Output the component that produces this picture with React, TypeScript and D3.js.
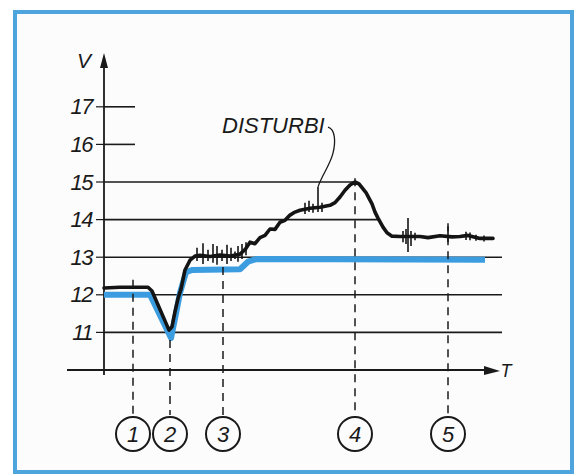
import React from "react";
import * as d3 from "d3";

// ---- data (T in arbitrary time units, V in volts) ----
const yTicks = [11, 12, 13, 14, 15, 16, 17];
// how far right each horizontal reference line runs (in T units)
const gridEnds = [99.5, 99.5, 99.5, 68.5, 62.75, 7.75, 7.75];

const blueT = [0, 11.5, 16.75, 18, 19, 20.5, 22, 34, 36, 38, 95.25];
const blueV = [12.0, 12.0, 10.85, 11.5, 12.05, 12.6, 12.66, 12.68, 12.88, 12.95, 12.93];

const blackT = [
  0, 4, 11, 12, 16.25, 17, 17.75, 18.5, 19.25, 20.25, 21.5, 22.75, 24, 26.5, 29, 31.5, 34,
  35.25, 36.5, 37.75, 39, 40.25, 41.5, 42.75, 44, 45.25, 46.5, 47.75, 49, 51.5, 54, 56.5,
  57.75, 59, 60.25, 61.5, 62.75, 63.75, 64.5, 65.5, 66, 67, 67.75, 68.5, 69.75, 70.75, 72,
  74, 79, 81, 84, 87, 89, 91, 94, 97.25,
];
const blackV = [
  12.18, 12.2, 12.2, 12.1, 11.06, 11.15, 11.55, 11.9, 12.15, 12.66, 12.92, 13.03, 13.05,
  13.02, 13.06, 13.03, 13.08, 13.2, 13.4, 13.36, 13.52, 13.58, 13.75, 13.74, 13.93, 13.98,
  14.12, 14.2, 14.25, 14.3, 14.33, 14.38, 14.45, 14.6, 14.78, 14.92, 15.0, 14.95, 14.85,
  14.72, 14.62, 14.42, 14.2, 14.04, 13.8, 13.65, 13.56, 13.55, 13.55, 13.52, 13.57, 13.54,
  13.55, 13.58, 13.5, 13.5,
];

// disturbance spikes: position, low, high
const spikeT = [23.25, 24.75, 26, 27.25, 28.25, 29.5, 30.75, 31.75, 32.75, 33.5, 34.5, 35.5,
  50.25, 51.25, 52.25, 53.5, 54.5, 74.75, 75.5, 76, 76.75, 77.75, 86, 90.5, 91.5, 93, 95];
const spikeLo = [12.9, 12.82, 12.9, 12.85, 12.8, 12.9, 12.82, 12.9, 12.95, 12.88, 12.95, 13.05,
  14.15, 14.2, 14.18, 14.2, 14.2, 13.4, 13.35, 13.14, 13.3, 13.45, 13.4, 13.46, 13.45, 13.44, 13.42];
const spikeHi = [13.25, 13.37, 13.2, 13.35, 13.3, 13.2, 13.33, 13.25, 13.15, 13.3, 13.35, 13.4,
  14.45, 14.5, 14.42, 14.87, 14.45, 13.7, 13.75, 14.04, 13.7, 13.65, 13.82, 13.68, 13.66, 13.6, 13.58];

// event markers
const markerLabels = ["1", "2", "3", "4", "5"];
const markerT = [7.25, 16.5, 29.75, 62.75, 86];
const markerTop = [12.4, 10.8, 12.74, 15.1, 13.9];

const annotationText = "DISTURBI";
const annotationTextT = 29.5; // start of text
const annotationTextV = 16.3; // baseline
const annotationTargetT = 53.5;
const annotationTargetV = 14.87;

const W = 584;
const H = 475;

export default function App() {
  const x = d3.scaleLinear().domain([0, 100]).range([104, 504]);
  const y = d3.scaleLinear().domain([10, 17]).range([370, 106.8]);

  const line = d3
    .line<[number, number]>()
    .x((d) => x(d[0]))
    .y((d) => y(d[1]))
    .curve(d3.curveLinear);

  const blue = blueT.map((t, i) => [t, blueV[i]] as [number, number]);
  const black = blackT.map((t, i) => [t, blackV[i]] as [number, number]);

  const font = "'Liberation Sans', Arial, sans-serif";
  const ink = "#1a1a1a";

  const x0 = x(0);
  const yAxisBottom = y(9.87);
  const yAxisTop = y(18.43);
  const xAxisY = y(10);
  const xAxisLeft = x(-9.25);
  const xAxisRight = x(99);
  const circleY = y(8.3);
  const circleR = 17;

  // annotation path
  const tx = x(annotationTextT);
  const ty = y(annotationTextV);
  const ax = x(annotationTargetT);
  const ay = y(annotationTargetV);
  const sx = tx + 106;
  const sy = ty - 6;
  const calloutPath = `M ${sx} ${sy} C ${sx + 7} ${sy + 2}, ${sx + 8} ${sy + 14}, ${sx + 5} ${sy + 26} S ${ax + 4} ${ay - 12}, ${ax} ${ay}`;

  return (
    <div style={{ position: "fixed", left: 0, top: 0 }}>
      <svg width={W} height={H} style={{ display: "block", background: "#ffffff" }}>
        <rect x={15} y={12} width={557} height={460} fill="#fcfcfc" stroke="#4ea5de" strokeWidth={4} />

        {/* horizontal reference lines and tick labels */}
        {yTicks.map((v, i) => (
          <g key={v}>
            <line x1={x0 - 8} x2={x0} y1={y(v)} y2={y(v)} stroke={ink} strokeWidth={1.2} />
            <line x1={x0} x2={x(gridEnds[i])} y1={y(v)} y2={y(v)} stroke={ink} strokeWidth={1.6} />
            <text
              x={x0 - 12}
              y={y(v) + 7.5}
              textAnchor="end"
              fontFamily={font}
              fontStyle="italic"
              fontSize={22}
              letterSpacing={-1.5}
              fill={ink}
            >
              {v}
            </text>
          </g>
        ))}

        {/* axes */}
        <line x1={x0} x2={x0} y1={yAxisBottom} y2={yAxisTop + 8} stroke={ink} strokeWidth={1.8} />
        <path d={`M ${x0} ${yAxisTop} L ${x0 - 4} ${yAxisTop + 15} L ${x0 + 4} ${yAxisTop + 15} Z`} fill={ink} />
        <text x={x0 - 20} y={yAxisTop + 15} textAnchor="middle" fontFamily={font} fontStyle="italic" fontSize={21} fill={ink}>
          V
        </text>
        <line x1={xAxisLeft} x2={xAxisRight - 8} y1={xAxisY} y2={xAxisY} stroke={ink} strokeWidth={1.8} />
        <path d={`M ${xAxisRight} ${xAxisY + 1} L ${xAxisRight - 16} ${xAxisY - 4} L ${xAxisRight - 16} ${xAxisY + 5} Z`} fill={ink} />
        <text x={xAxisRight + 6} y={xAxisY + 7} textAnchor="middle" fontFamily={font} fontStyle="italic" fontSize={18} fill={ink}>
          T
        </text>

        {/* series */}
        <path d={line(blue) || ""} fill="none" stroke="#3b9de0" strokeWidth={6} strokeLinejoin="round" strokeLinecap="butt" />
        <path d={line(black) || ""} fill="none" stroke="#141414" strokeWidth={3.6} strokeLinejoin="round" strokeLinecap="round" />
        {spikeT.map((t, i) => (
          <line key={i} x1={x(t)} x2={x(t)} y1={y(spikeLo[i])} y2={y(spikeHi[i])} stroke="#141414" strokeWidth={1.6} />
        ))}

        {/* event markers */}
        {markerT.map((t, i) => (
          <g key={i}>
            <line
              x1={x(t)}
              x2={x(t)}
              y1={y(markerTop[i])}
              y2={circleY - circleR - 2}
              stroke={ink}
              strokeWidth={1.5}
              strokeDasharray="8 6"
            />
            <circle cx={x(t)} cy={circleY} r={circleR} fill="none" stroke={ink} strokeWidth={2} />
            <text
              x={x(t)}
              y={circleY + 8}
              textAnchor="middle"
              fontFamily={font}
              fontStyle="italic"
              fontSize={22}
              fill={ink}
            >
              {markerLabels[i]}
            </text>
          </g>
        ))}

        {/* annotation */}
        <text x={tx} y={ty} fontFamily={font} fontStyle="italic" fontSize={22} fill={ink}>
          {annotationText}
        </text>
        <path d={calloutPath} fill="none" stroke={ink} strokeWidth={1.3} />
      </svg>
    </div>
  );
}
